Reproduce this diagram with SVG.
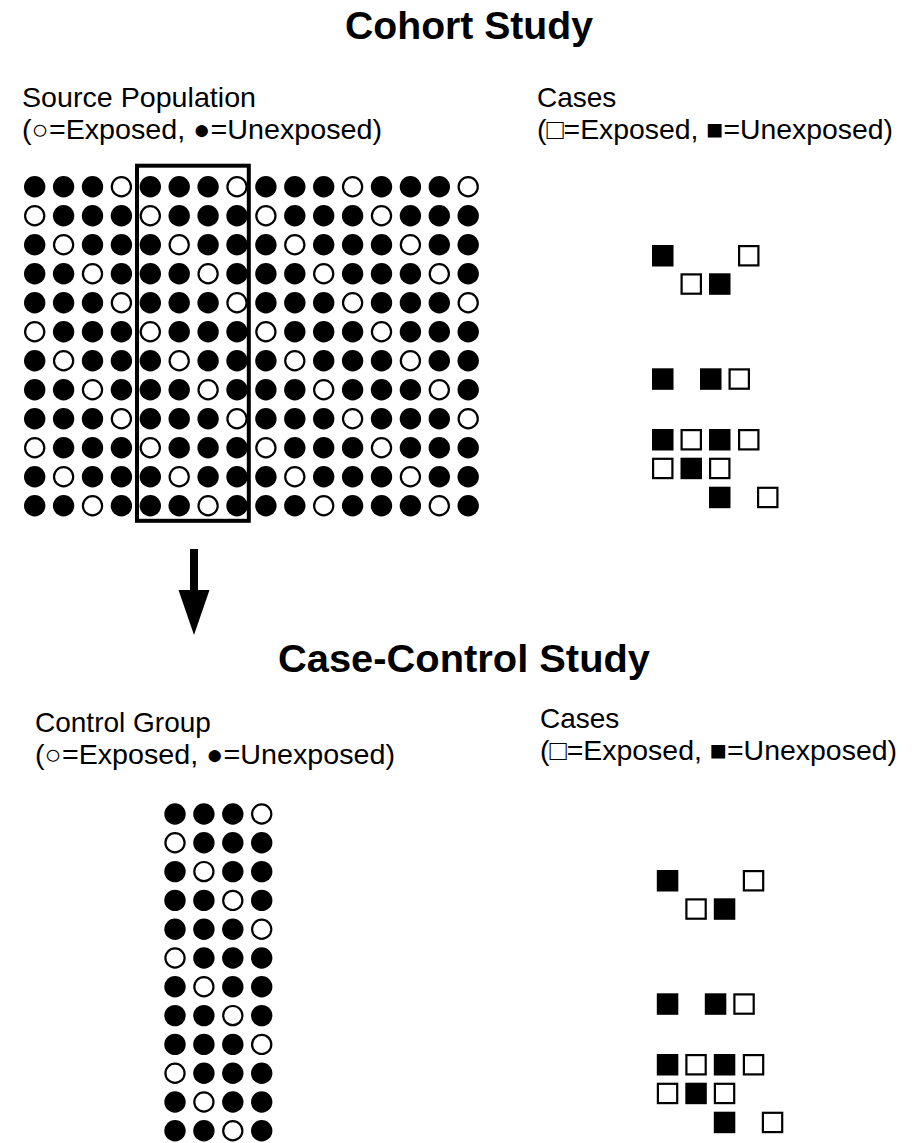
<svg xmlns="http://www.w3.org/2000/svg" xmlns:xlink="http://www.w3.org/1999/xlink" width="917" height="1143" viewBox="0 0 917 1143">
<style>
.t{font-family:"Liberation Sans",Arial,sans-serif;font-size:28px;fill:#000}
.h{font-family:"Liberation Sans",Arial,sans-serif;font-size:39px;font-weight:bold;fill:#000}
</style>
<defs>
<circle id="f" r="10.7" fill="#000"/>
<circle id="o" r="9.6" fill="#fff" stroke="#000" stroke-width="2.2"/>
<g id="b0"><use href="#o" x="0"/><use href="#f" x="28.9"/><use href="#f" x="57.8"/><use href="#f" x="86.7"/></g>
<g id="b1"><use href="#f" x="0"/><use href="#o" x="28.9"/><use href="#f" x="57.8"/><use href="#f" x="86.7"/></g>
<g id="b2"><use href="#f" x="0"/><use href="#f" x="28.9"/><use href="#o" x="57.8"/><use href="#f" x="86.7"/></g>
<g id="b3"><use href="#f" x="0"/><use href="#f" x="28.9"/><use href="#f" x="57.8"/><use href="#o" x="86.7"/></g>
<rect id="sf" width="21.5" height="21.5" fill="#000"/>
<rect id="so" x="1.1" y="1.1" width="19.3" height="19.3" fill="#fff" stroke="#000" stroke-width="2.2"/>
<g id="cluster">
<use href="#sf" x="652" y="245"/><use href="#so" x="738" y="245"/>
<use href="#so" x="680.5" y="273.3"/><use href="#sf" x="709" y="273.3"/>
<use href="#sf" x="652" y="368.3"/><use href="#sf" x="700" y="368.3"/><use href="#so" x="728.5" y="368.3"/>
<use href="#sf" x="652" y="429"/><use href="#so" x="680.5" y="429"/><use href="#sf" x="709" y="429"/><use href="#so" x="738" y="429"/>
<use href="#so" x="652" y="457.7"/><use href="#sf" x="680.5" y="457.7"/><use href="#so" x="709" y="457.7"/>
<use href="#sf" x="709" y="486.7"/><use href="#so" x="757" y="486.7"/>
</g>
</defs>
<rect width="917" height="1143" fill="#fff"/>

<g id="title-cohort"><text class="h" x="345" y="39" textLength="248" lengthAdjust="spacingAndGlyphs">Cohort Study</text></g>

<g id="label-source">
<text class="t" x="22" y="107" textLength="234" lengthAdjust="spacingAndGlyphs">Source Population</text>
<text class="t" x="22" y="139" textLength="360" lengthAdjust="spacingAndGlyphs">(○=Exposed, ●=Unexposed)</text>
</g>
<g id="label-cases-top">
<text class="t" x="537" y="107">Cases</text>
<text class="t" x="537" y="139" textLength="356" lengthAdjust="spacingAndGlyphs">(□=Exposed, ■=Unexposed)</text>
</g>

<g id="source-population">
<g transform="translate(0,186.7)"><use href="#b3" x="34.7"/><use href="#b3" x="150.3"/><use href="#b3" x="265.9"/><use href="#b3" x="381.5"/></g>
<g transform="translate(0,215.7)"><use href="#b0" x="34.7"/><use href="#b0" x="150.3"/><use href="#b0" x="265.9"/><use href="#b0" x="381.5"/></g>
<g transform="translate(0,244.7)"><use href="#b1" x="34.7"/><use href="#b1" x="150.3"/><use href="#b1" x="265.9"/><use href="#b1" x="381.5"/></g>
<g transform="translate(0,273.7)"><use href="#b2" x="34.7"/><use href="#b2" x="150.3"/><use href="#b2" x="265.9"/><use href="#b2" x="381.5"/></g>
<g transform="translate(0,302.7)"><use href="#b3" x="34.7"/><use href="#b3" x="150.3"/><use href="#b3" x="265.9"/><use href="#b3" x="381.5"/></g>
<g transform="translate(0,331.7)"><use href="#b0" x="34.7"/><use href="#b0" x="150.3"/><use href="#b0" x="265.9"/><use href="#b0" x="381.5"/></g>
<g transform="translate(0,360.7)"><use href="#b1" x="34.7"/><use href="#b1" x="150.3"/><use href="#b1" x="265.9"/><use href="#b1" x="381.5"/></g>
<g transform="translate(0,389.7)"><use href="#b2" x="34.7"/><use href="#b2" x="150.3"/><use href="#b2" x="265.9"/><use href="#b2" x="381.5"/></g>
<g transform="translate(0,418.7)"><use href="#b3" x="34.7"/><use href="#b3" x="150.3"/><use href="#b3" x="265.9"/><use href="#b3" x="381.5"/></g>
<g transform="translate(0,447.7)"><use href="#b0" x="34.7"/><use href="#b0" x="150.3"/><use href="#b0" x="265.9"/><use href="#b0" x="381.5"/></g>
<g transform="translate(0,476.7)"><use href="#b1" x="34.7"/><use href="#b1" x="150.3"/><use href="#b1" x="265.9"/><use href="#b1" x="381.5"/></g>
<g transform="translate(0,505.7)"><use href="#b2" x="34.7"/><use href="#b2" x="150.3"/><use href="#b2" x="265.9"/><use href="#b2" x="381.5"/></g>
</g>

<g id="selection-box"><rect x="137" y="165.7" width="111.8" height="355.1" fill="none" stroke="#000" stroke-width="4"/></g>

<g id="cases-top"><use href="#cluster"/></g>

<g id="connectors">
<polygon points="190,549 198,549 198,590 209.5,590 194,635 178.5,590 190,590" fill="#000"/>
</g>

<g id="title-casecontrol"><text class="h" x="278" y="672" textLength="372" lengthAdjust="spacingAndGlyphs">Case-Control Study</text></g>

<g id="label-control">
<text class="t" x="35" y="732">Control Group</text>
<text class="t" x="35" y="764" textLength="360" lengthAdjust="spacingAndGlyphs">(○=Exposed, ●=Unexposed)</text>
</g>
<g id="label-cases-bottom">
<text class="t" x="540" y="728">Cases</text>
<text class="t" x="540" y="760" textLength="357" lengthAdjust="spacingAndGlyphs">(□=Exposed, ■=Unexposed)</text>
</g>

<g id="control-group">
<use href="#b3" x="175" y="814"/>
<use href="#b0" x="175" y="842.8"/>
<use href="#b1" x="175" y="871.6"/>
<use href="#b2" x="175" y="900.4"/>
<use href="#b3" x="175" y="929.2"/>
<use href="#b0" x="175" y="958"/>
<use href="#b1" x="175" y="986.8"/>
<use href="#b2" x="175" y="1015.6"/>
<use href="#b3" x="175" y="1044.4"/>
<use href="#b0" x="175" y="1073.2"/>
<use href="#b1" x="175" y="1102"/>
<use href="#b2" x="175" y="1130.8"/>
</g>

<g id="cases-bottom"><use href="#cluster" transform="translate(4.8,625)"/></g>
</svg>
